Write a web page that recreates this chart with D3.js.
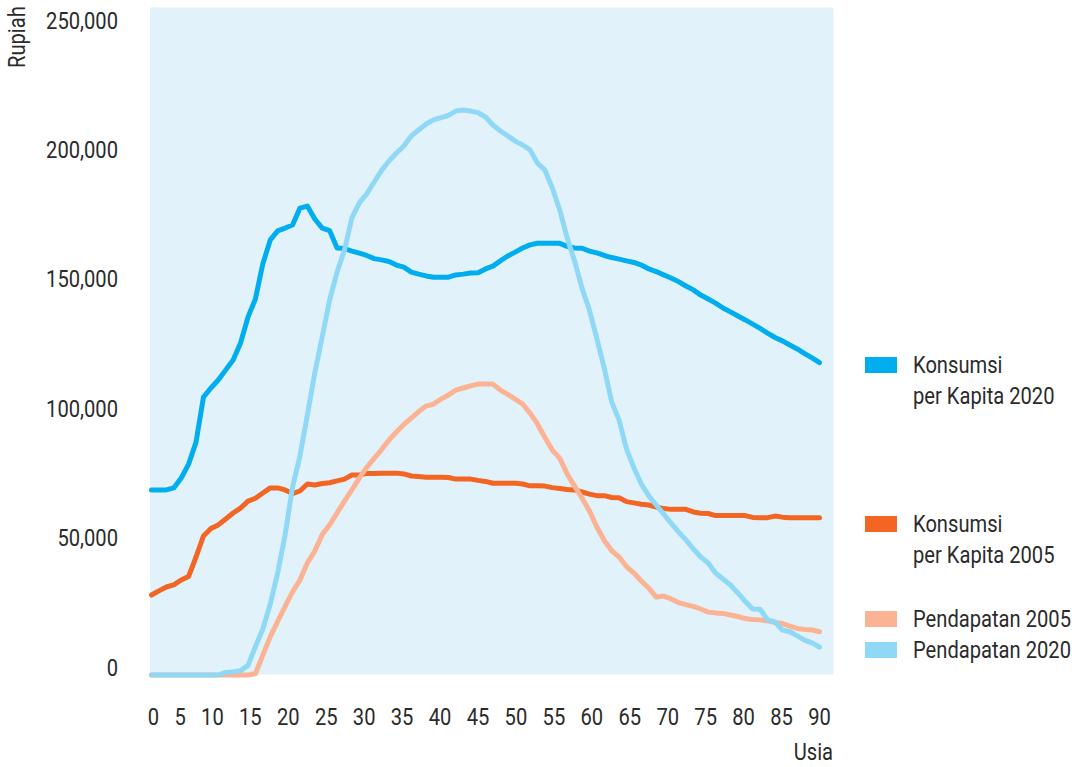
<!DOCTYPE html>
<html>
<head>
<meta charset="utf-8">
<script src="https://cdn.jsdelivr.net/npm/d3@7/dist/d3.min.js"></script>
<style>
  html, body { margin: 0; padding: 0; background: #ffffff; }
  svg { display: block; }
  text { font-family: "Roboto", "Liberation Sans", sans-serif; fill: #2b2b2b; }
</style>
</head>
<body>
<svg id="chart" width="1078" height="767"></svg>
<script>
// ---- data (values in Rupiah) ----
const ages = d3.range(0, 91);
const xTickValues = [0, 5, 10, 15, 20, 25, 30, 35, 40, 45, 50, 55, 60, 65, 70, 75, 80, 85, 90];
const yTickValues = [0, 50000, 100000, 150000, 200000, 250000];

const konsumsi2020 = [71500,71500,71500,72300,76100,81500,90000,107400,110900,114000,
  117900,121700,128300,138300,145300,158900,168100,171600,172700,173900,
  180400,181200,176200,172700,171700,165000,164800,163800,163000,162100,
  160900,160400,159800,158400,157600,155700,154900,154200,153700,153700,
  153700,154600,154900,155300,155400,156900,158000,160000,161900,163400,
  165000,166200,166800,166800,166800,166800,165600,165000,164900,163800,
  163100,162100,161300,160700,160000,159400,158400,156900,155900,154600,
  153400,152000,150300,148800,146800,145300,143700,141800,140300,138700,
  137200,135600,133900,132100,130400,129100,127500,126000,124200,122500,120700];

const konsumsi2005 = [30900,32500,34000,34800,36700,38100,45600,53700,56600,58000,
  60300,62600,64500,67200,68300,70300,72300,72300,71500,70100,
  71100,73800,73400,74000,74300,75000,75700,77300,77300,77900,
  77900,78000,78000,78000,77700,76900,76700,76400,76400,76400,
  76300,75700,75700,75700,75200,74800,74100,74100,74100,74100,
  73800,73100,73100,73000,72400,72100,71700,71500,70700,69900,
  69300,69300,68600,68500,67000,66500,66000,65700,64900,64300,
  64000,64000,64000,63000,62500,62400,61600,61600,61600,61600,
  61600,60900,60800,60800,61400,61000,60800,60800,60800,60800,60800];

const pendapatan2005 = [0,0,0,0,0,0,0,0,0,0,
  0,0,0,0,500,7700,14800,20700,26500,32100,
  36700,43300,47900,54300,58000,62600,67200,71500,76100,80200,
  83700,87100,90800,93900,96800,99300,101800,103900,104700,106600,
  108200,110100,110900,111700,112400,112400,112400,110100,108400,106600,
  104700,101200,97000,91800,86900,83800,77700,73000,68400,63400,
  57200,52000,48000,45600,41900,39400,36300,33600,30100,30500,
  29400,28000,27200,26500,25500,24300,24000,23800,23200,22600,
  21800,21400,21300,20900,20300,19900,18900,18000,17600,17400,16700];

const pendapatan2020 = [0,0,0,0,0,0,0,0,0,0,
  1000,1200,1700,3700,11000,17800,27400,39400,54100,72600,
  84600,100500,116700,130600,144900,155700,164200,176600,182400,185900,
  190500,195000,198600,201700,204400,208300,210600,212900,214500,215400,
  216200,217900,218300,217900,217300,215600,212500,210200,208300,206300,
  204800,202900,197800,195100,188200,179700,168900,160000,149500,141000,
  130000,118600,105500,98500,87300,80000,73800,69200,65700,62200,
  58700,55300,52200,48700,45600,43300,39400,37100,34800,31700,
  28400,25500,25400,21300,20500,17400,16700,15100,13500,12400,10800];

const seriesColors = ["#00aeef", "#f26522", "#fbb394", "#8fd9f6"];
const legendLabels = [["Konsumsi", "per Kapita 2020"], ["Konsumsi", "per Kapita 2005"], ["Pendapatan 2005"], ["Pendapatan 2020"]];

// ---- layout ----
const svg = d3.select("#chart");
const plotLeft = 150, plotRight = 833.5, plotTop = 7.5, plotBottom = 674.5;
const x = d3.scaleLinear().domain([0, 90]).range([151.5, 819.5]);
const y = d3.scaleLinear().domain([0, 250000]).range([675, 28]);
const fontSize = 24;
const sx = 0.84; // horizontal squeeze: the reference uses a condensed face

svg.append("rect")
  .attr("x", plotLeft).attr("y", plotTop)
  .attr("width", plotRight - plotLeft).attr("height", plotBottom - plotTop)
  .attr("fill", "#e1f2fb");

// y axis
const yAxis = d3.axisLeft(y).tickValues(yTickValues).tickSize(0).tickPadding(0)
  .tickFormat(d3.format(","));
const gy = svg.append("g").attr("transform", "translate(118,0)").call(yAxis);
gy.select(".domain").remove();
gy.selectAll("text").attr("font-size", fontSize).attr("dy", 0).attr("x", 0)
  .attr("font-family", null).style("fill", "#2b2b2b")
  .attr("transform", `scale(${sx},1)`);

// x axis
const xAxis = d3.axisBottom(x).tickValues(xTickValues).tickSize(0).tickPadding(0)
  .tickFormat(d3.format("d"));
const gx = svg.append("g").attr("transform", "translate(0,725)").call(xAxis);
gx.select(".domain").remove();
gx.selectAll("text").attr("font-size", fontSize).attr("dy", 0).attr("y", 0)
  .attr("font-family", null).style("fill", "#2b2b2b")
  .attr("transform", `scale(${sx},1)`);
// lay the tick labels out in a row with equal gaps between them (as in the reference)
(function () {
  const ticks = gx.selectAll(".tick").nodes();
  const widths = ticks.map(t => t.querySelector("text").getComputedTextLength() * sx);
  const firstC = x(0) + 2, lastC = x(90);
  const span = (lastC + widths[widths.length - 1] / 2) - (firstC - widths[0] / 2);
  const gap = (span - d3.sum(widths)) / (widths.length - 1);
  let left = firstC - widths[0] / 2;
  ticks.forEach((t, i) => {
    d3.select(t).attr("transform", `translate(${left + widths[i] / 2},0)`);
    left += widths[i] + gap;
  });
})();

// axis titles
svg.append("text").attr("transform", `translate(25,68) rotate(-90) scale(${sx},1)`)
  .attr("font-size", fontSize).text("Rupiah");
svg.append("text").attr("transform", `translate(833,760) scale(${sx},1)`)
  .attr("text-anchor", "end").attr("font-size", fontSize).text("Usia");

// lines
const line = d3.line().x((d, i) => x(ages[i])).y(d => y(d));
const allSeries = [konsumsi2020, konsumsi2005, pendapatan2005, pendapatan2020];
allSeries.forEach((s, k) => {
  svg.append("path").datum(s)
    .attr("d", line)
    .attr("fill", "none")
    .attr("stroke", seriesColors[k])
    .attr("stroke-width", 5)
    .attr("stroke-linejoin", "round")
    .attr("stroke-linecap", "round");
});

// legend
const legendY = [373, 532, 627, 658];
const legend = svg.append("g");
legendLabels.forEach((lines, k) => {
  legend.append("rect").attr("x", 865).attr("y", legendY[k] - 16)
    .attr("width", 32).attr("height", 16).attr("fill", seriesColors[k]);
  lines.forEach((ln, j) => {
    legend.append("text")
      .attr("transform", `translate(913,${legendY[k] + j * 31}) scale(${sx},1)`)
      .attr("font-size", fontSize).text(ln);
  });
});
</script>
</body>
</html>
